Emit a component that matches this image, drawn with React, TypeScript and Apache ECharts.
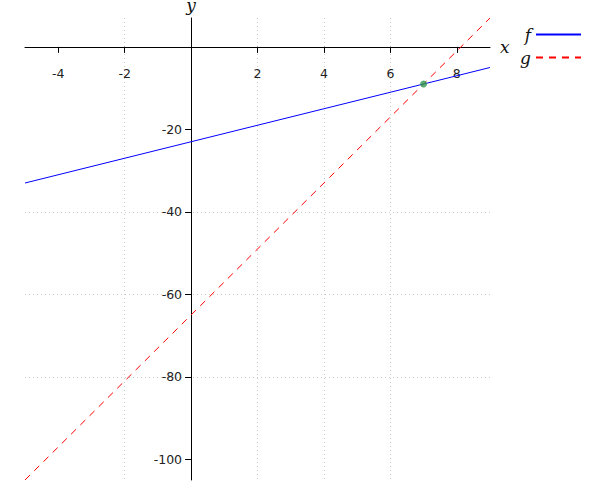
import React, { useEffect, useRef } from "react";
import * as echarts from "echarts";

const xRange = [-5, 9];
const yRange = [-105, 7];
const xTickValues = [-4, -2, 2, 4, 6, 8];
const yTickValues = [-100, -80, -60, -40, -20];
const fLine = [[-5, -33], [9, -5]];
const gLine = [[-5, -105], [9, 7]];
const intersection = [[7, -9]];
const legendNames = ["f", "g"];

const W = 600;
const H = 500;
const GRID = { left: 25, right: 110, top: 18, bottom: 20 };

export default function App() {
  const ref = useRef<HTMLDivElement>(null);
  useEffect(() => {
    if (!ref.current) return;
    const chart = echarts.init(ref.current, null, { renderer: "svg" });
    const gw = W - GRID.left - GRID.right;
    const gh = H - GRID.top - GRID.bottom;
    // pixel position of the zero lines inside the grid
    const zeroX = ((0 - xRange[0]) / (xRange[1] - xRange[0])) * gw;
    const zeroY = ((yRange[1] - 0) / (yRange[1] - yRange[0])) * gh;
    const labelStyle = { color: "#222", fontFamily: "DejaVu Sans", fontSize: 12.5 };
    const nameStyle = { fontFamily: "DejaVu Serif", fontStyle: "italic", fontSize: 17, color: "#111" };
    const splitLine = {
      show: true,
      showMinLine: false,
      showMaxLine: false,
      lineStyle: { color: "#cccccc", type: [1, 3], width: 1 },
    };
    chart.setOption({
      animation: false,
      backgroundColor: "#ffffff",
      grid: { ...GRID, containLabel: false, outerBoundsMode: "none" },
      legend: {
        data: legendNames,
        orient: "vertical",
        align: "right",
        right: 13,
        top: 21,
        itemWidth: 45,
        itemHeight: 14,
        itemGap: 6,
        itemStyle: { opacity: 0 },
        textStyle: { fontFamily: "DejaVu Serif", fontStyle: "italic", fontSize: 17, color: "#111" },
      },
      xAxis: {
        type: "value",
        position: "bottom",
        offset: -(gh - zeroY),
        min: xRange[0],
        max: xRange[1],
        splitNumber: 7,
        name: "x",
        nameLocation: "end",
        nameGap: 10,
        nameTextStyle: nameStyle,
        axisLine: { show: true, onZero: false, lineStyle: { color: "#000", width: 1 } },
        axisTick: { show: true, length: 6, customValues: xTickValues, lineStyle: { color: "#000" } },
        axisLabel: { ...labelStyle, margin: 20, customValues: xTickValues, formatter: (v: number) => String(v) },
        splitLine,
      },
      yAxis: {
        type: "value",
        position: "left",
        offset: -zeroX,
        min: yRange[0],
        max: yRange[1],
        splitNumber: 6,
        name: "y",
        nameLocation: "end",
        nameGap: 5,
        nameTextStyle: nameStyle,
        axisLine: { show: true, onZero: false, lineStyle: { color: "#000", width: 1 } },
        axisTick: { show: true, length: 6, customValues: yTickValues, lineStyle: { color: "#000" } },
        axisLabel: { ...labelStyle, margin: 9, customValues: yTickValues, formatter: (v: number) => String(v) },
        splitLine,
      },
      series: [
        {
          name: "f",
          type: "line",
          data: fLine,
          symbol: "none",
          showSymbol: false,
          clip: false,
          lineStyle: { color: "#0000ff", width: 1 },
          itemStyle: { color: "#0000ff" },
          z: 10,
        },
        {
          name: "g",
          type: "line",
          data: gLine,
          symbol: "none",
          showSymbol: false,
          clip: false,
          lineStyle: { color: "#ff0000", width: 1, type: [7, 6] },
          itemStyle: { color: "#ff0000" },
          z: 10,
        },
        {
          name: "intersection",
          type: "scatter",
          data: intersection,
          symbolSize: 7,
          itemStyle: { color: "#2e9a52" },
          z: 12,
        },
      ],
    });
    return () => chart.dispose();
  }, []);
  return (
    <div
      ref={ref}
      style={{ position: "absolute", left: 0, top: 0, width: W, height: H }}
    />
  );
}
